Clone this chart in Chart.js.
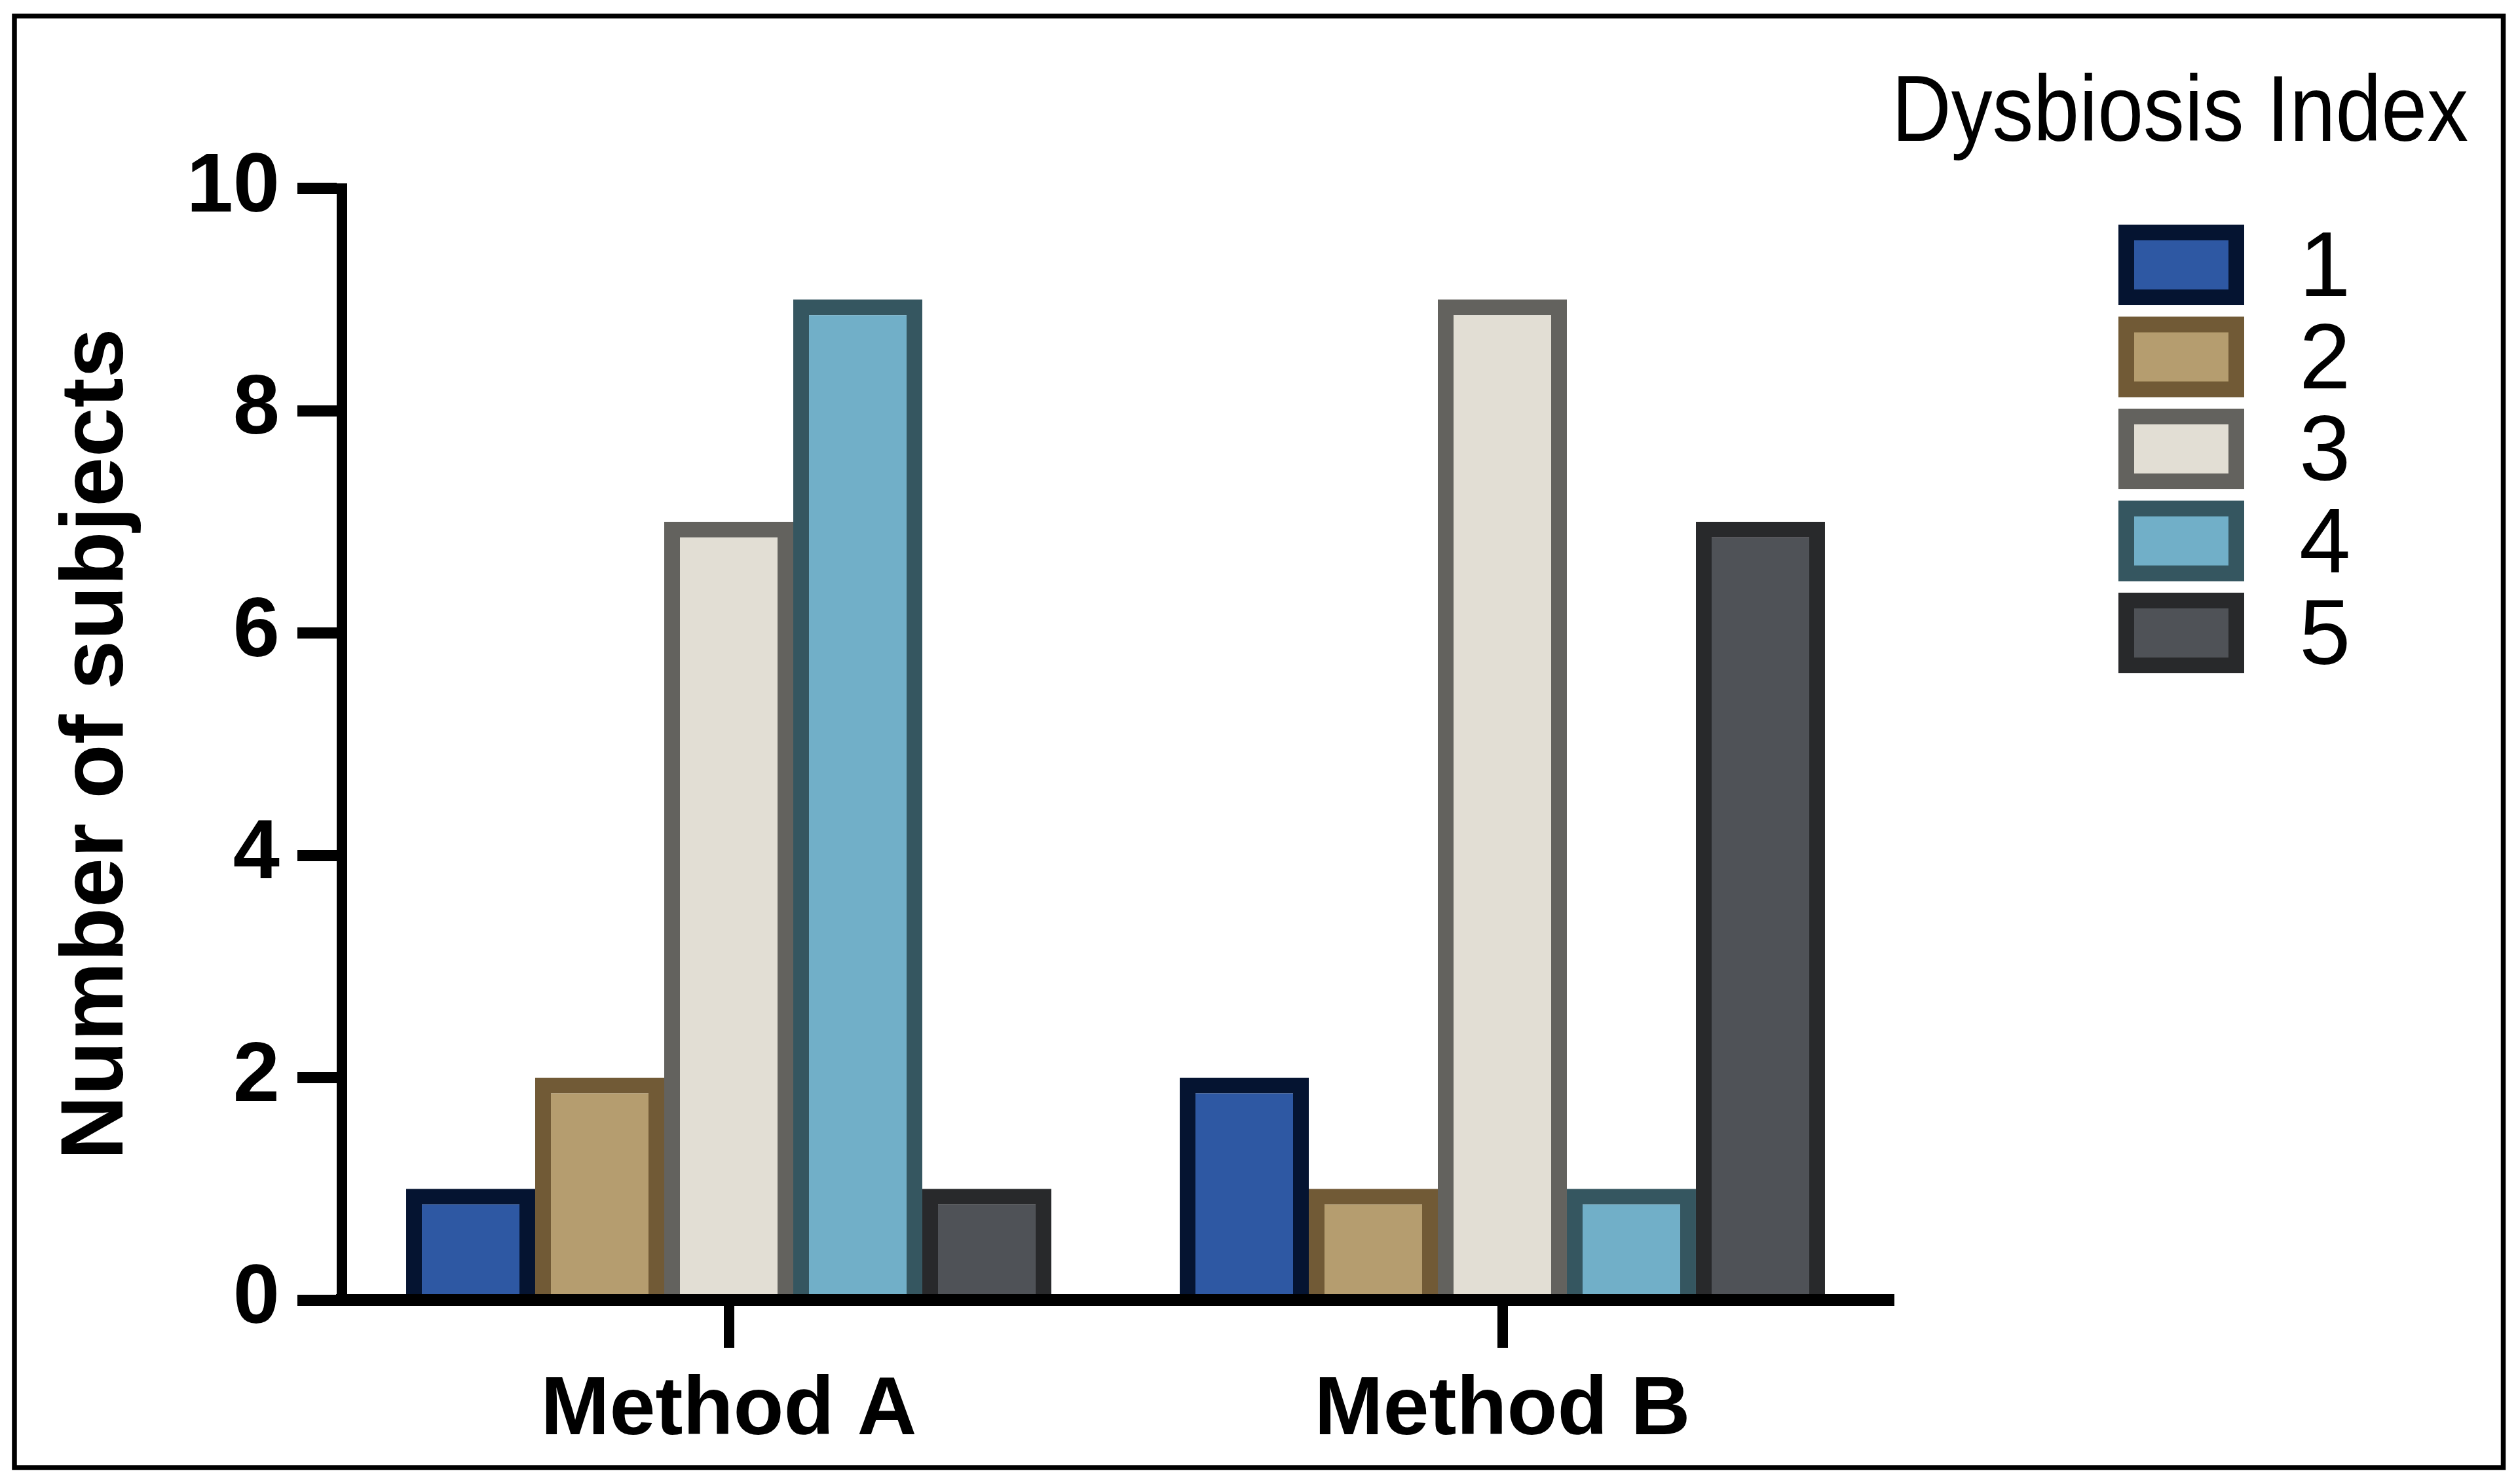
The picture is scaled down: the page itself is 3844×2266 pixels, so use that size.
<!DOCTYPE html>
<html>
<head>
<meta charset="utf-8">
<script src="https://cdn.jsdelivr.net/npm/chart.js@4.4.1/dist/chart.umd.min.js"></script>
<style>
  html, body { margin: 0; padding: 0; background: #ffffff; overflow: hidden; }
  #wrap { position: relative; width: 3844px; height: 2266px; }
  canvas { display: block; }
</style>
</head>
<body>
<div id="wrap"><canvas id="chart"></canvas></div>
<script>
// ---------------- data ----------------
const categories = ['Method A', 'Method B'];
const seriesLabels = ['1', '2', '3', '4', '5'];
const index1 = [1, 2];
const index2 = [2, 1];
const index3 = [7, 9];
const index4 = [9, 1];
const index5 = [1, 7];
const yTicks = [0, 2, 4, 6, 8, 10];
const yTitle = 'Number of subjects';
const legendTitle = 'Dysbiosis Index';

// ---------------- styles ----------------
const fillColors = ['#2E58A3', '#B59D6F', '#E2DED4', '#71AFC8', '#4F5257'];
const edgeColors = ['#051431', '#715A36', '#63625E', '#355660', '#28292B'];
const FONT = "Arial, 'Liberation Sans', Helvetica, sans-serif";

const seriesValues = [index1, index2, index3, index4, index5];

const datasets = seriesValues.map((vals, i) => ({
  label: seriesLabels[i],
  data: vals,
  backgroundColor: fillColors[i],
  borderColor: edgeColors[i],
  borderWidth: 24,
  borderSkipped: 'start',
  categoryPercentage: 0.834,
  barPercentage: 1.0
}));

// white background + outer frame
const framePlugin = {
  id: 'framePlugin',
  beforeDraw(chart) {
    const ctx = chart.ctx;
    ctx.save();
    ctx.fillStyle = '#ffffff';
    ctx.fillRect(0, 0, chart.width, chart.height);
    ctx.restore();
  },
  afterDraw(chart) {
    const ctx = chart.ctx;
    ctx.save();
    ctx.strokeStyle = '#000000';
    ctx.lineWidth = 7.5;
    ctx.strokeRect(22, 24.5, 3799.5, 2216.5);
    ctx.restore();
  }
};

// legend on the right, drawn from the datasets
const sideLegend = {
  id: 'sideLegend',
  afterDraw(chart, args, o) {
    const ctx = chart.ctx;
    ctx.save();
    ctx.fillStyle = '#000000';
    ctx.font = 'normal ' + o.titleSize + 'px ' + FONT;
    ctx.textAlign = 'right';
    ctx.textBaseline = 'alphabetic';
    ctx.translate(o.titleRight, o.titleBaseline);
    ctx.scale(o.titleSquash, 1);
    ctx.fillText(legendTitle, 0, 0);
    ctx.restore();

    chart.data.datasets.forEach((ds, i) => {
      const top = o.top + i * o.pitch;
      ctx.save();
      ctx.fillStyle = ds.borderColor;
      ctx.fillRect(o.left, top, o.w, o.h);
      ctx.fillStyle = ds.backgroundColor;
      ctx.fillRect(o.left + o.bw, top + o.bw, o.w - 2 * o.bw, o.h - 2 * o.bw);
      ctx.fillStyle = '#000000';
      ctx.font = 'normal ' + o.labelSize + 'px ' + FONT;
      ctx.textAlign = 'left';
      ctx.textBaseline = 'alphabetic';
      ctx.fillText(ds.label, o.textX, top + o.textDy);
      ctx.restore();
    });
  }
};

new Chart(document.getElementById('chart'), {
  type: 'bar',
  data: { labels: categories, datasets: datasets },
  plugins: [framePlugin, sideLegend],
  options: {
    responsive: true,
    maintainAspectRatio: false,
    devicePixelRatio: 1,
    animation: false,
    events: [],
    layout: { padding: { top: 287.5, right: 960, bottom: 0, left: 40 } },
    plugins: {
      legend: { display: false },
      tooltip: { enabled: false },
      title: { display: false },
      sideLegend: {
        titleSize: 142, titleRight: 3768, titleBaseline: 215, titleSquash: 0.885,
        left: 3234, top: 343, pitch: 140.5, w: 192, h: 123, bw: 24,
        labelSize: 141, textX: 3510, textDy: 109
      }
    },
    scales: {
      x: {
        type: 'category',
        offset: true,
        grid: {
          display: true,
          offset: false,
          drawOnChartArea: false,
          drawTicks: true,
          tickLength: 73,
          lineWidth: 16,
          color: '#000000'
        },
        border: { display: true, color: '#000000', width: 18, z: 1 },
        ticks: {
          color: '#000000',
          padding: 22,
          maxRotation: 0,
          font: { family: FONT, size: 126, weight: 'bold' }
        },
        afterFit(scale) { scale.height = 281; }
      },
      y: {
        type: 'linear',
        min: 0,
        max: 10,
        afterBuildTicks(scale) { scale.ticks = yTicks.map(v => ({ value: v })); },
        grid: {
          display: true,
          drawOnChartArea: false,
          drawTicks: true,
          tickLength: 68,
          lineWidth: 17,
          color: '#000000'
        },
        border: { display: true, color: '#000000', width: 16, z: 1 },
        ticks: {
          color: '#000000',
          padding: 27,
          font: { family: FONT, size: 128, weight: 'bold' },
          callback: (v) => String(v)
        },
        title: {
          display: true,
          text: yTitle,
          color: '#000000',
          padding: { top: 28, bottom: 0 },
          font: { family: FONT, size: 136, weight: 'bold' }
        },
        afterFit(scale) { scale.width = 482; }
      }
    }
  }
});
</script>
</body>
</html>
